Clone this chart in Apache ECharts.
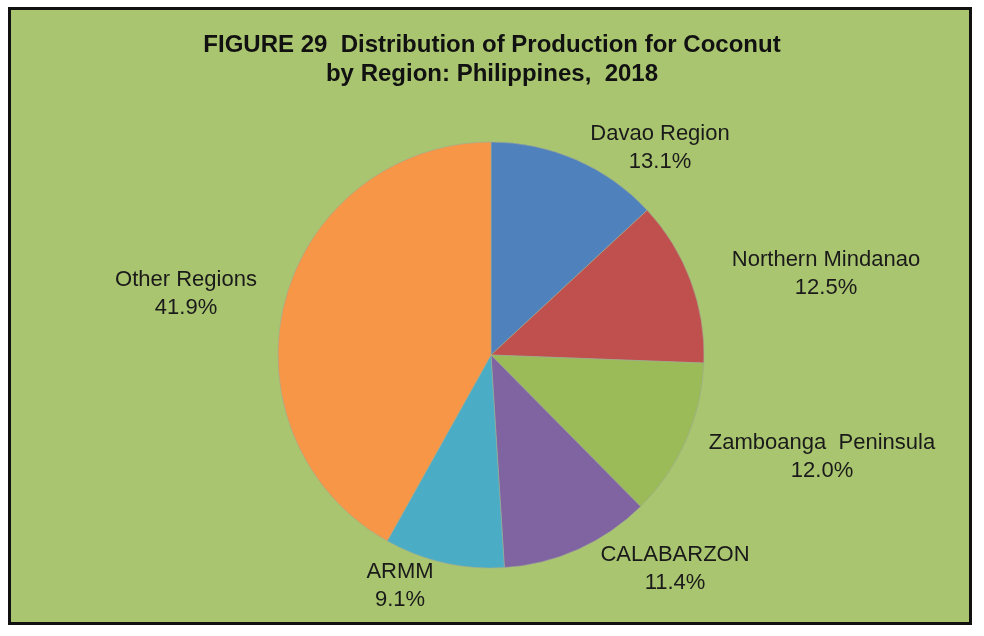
<!DOCTYPE html>
<html>
<head>
<meta charset="utf-8">
<script src="https://cdn.jsdelivr.net/npm/echarts@6/dist/echarts.min.js"></script>
<style>
	html, body { margin: 0; padding: 0; background: #fff; }
	#frame {
		position: absolute; left: 8px; top: 7px;
		width: 958px; height: 612px;
		border: 3px solid #111;
		background: #a9c56f;
	}
	#pieChart { position: absolute; left: 0; top: 0; width: 984px; height: 636px; }
</style>
</head>
<body>
<div id="frame"></div>
<div id="pieChart"></div>
<script>
// regions and their share of coconut production (percent)
var regions = ['Davao Region', 'Northern Mindanao', 'Zamboanga  Peninsula', 'CALABARZON', 'ARMM', 'Other Regions'];
var shares = [13.1, 12.5, 12.0, 11.4, 9.1, 41.9];
var sliceColors = ['#4f81bd', '#c0504d', '#9bbb59', '#8064a2', '#4bacc6', '#f79646'];

// where Excel put each label (centre of the two-line block)
var labelSpots = [
	[660, 148], [826, 274], [822, 457], [675, 569], [400, 586], [186, 294]
];

var myChart = echarts.init(document.getElementById('pieChart'));

var pieData = [];
for(var i = 0; i < regions.length; i++) {
	pieData.push({
		name: regions[i],
		value: shares[i],
		itemStyle: { color: sliceColors[i] }
	});
}

var option = {
	animation: false,
	title: {
		text: 'FIGURE 29  Distribution of Production for Coconut\nby Region: Philippines,  2018',
		left: 'center',
		top: 26,
		textStyle: {
			fontFamily: 'Liberation Sans',
			fontWeight: 'bold',
			fontSize: 24,
			lineHeight: 29,
			color: '#111'
		}
	},
	series: [{
		type: 'pie',
		center: [491, 355],
		radius: 213,
		startAngle: 90,
		clockwise: true,
		itemStyle: {
			borderColor: 'rgba(160,170,150,0.6)',
			borderWidth: 1
		},
		emphasis: { disabled: true },
		label: {
			show: true,
			position: 'outside',
			formatter: function(params) {
				return params.name + '\n' + params.value.toFixed(1) + '%';
			},
			fontFamily: 'Liberation Sans',
			fontSize: 22,
			lineHeight: 28,
			color: '#1a1a1a',
			align: 'center'
		},
		labelLine: { show: false },
		labelLayout: function(params) {
			var p = labelSpots[params.dataIndex];
			return {
				x: p[0],
				y: p[1],
				align: 'center',
				verticalAlign: 'middle'
			};
		},
		data: pieData
	}]
};
myChart.setOption(option);
</script>
</body>
</html>
